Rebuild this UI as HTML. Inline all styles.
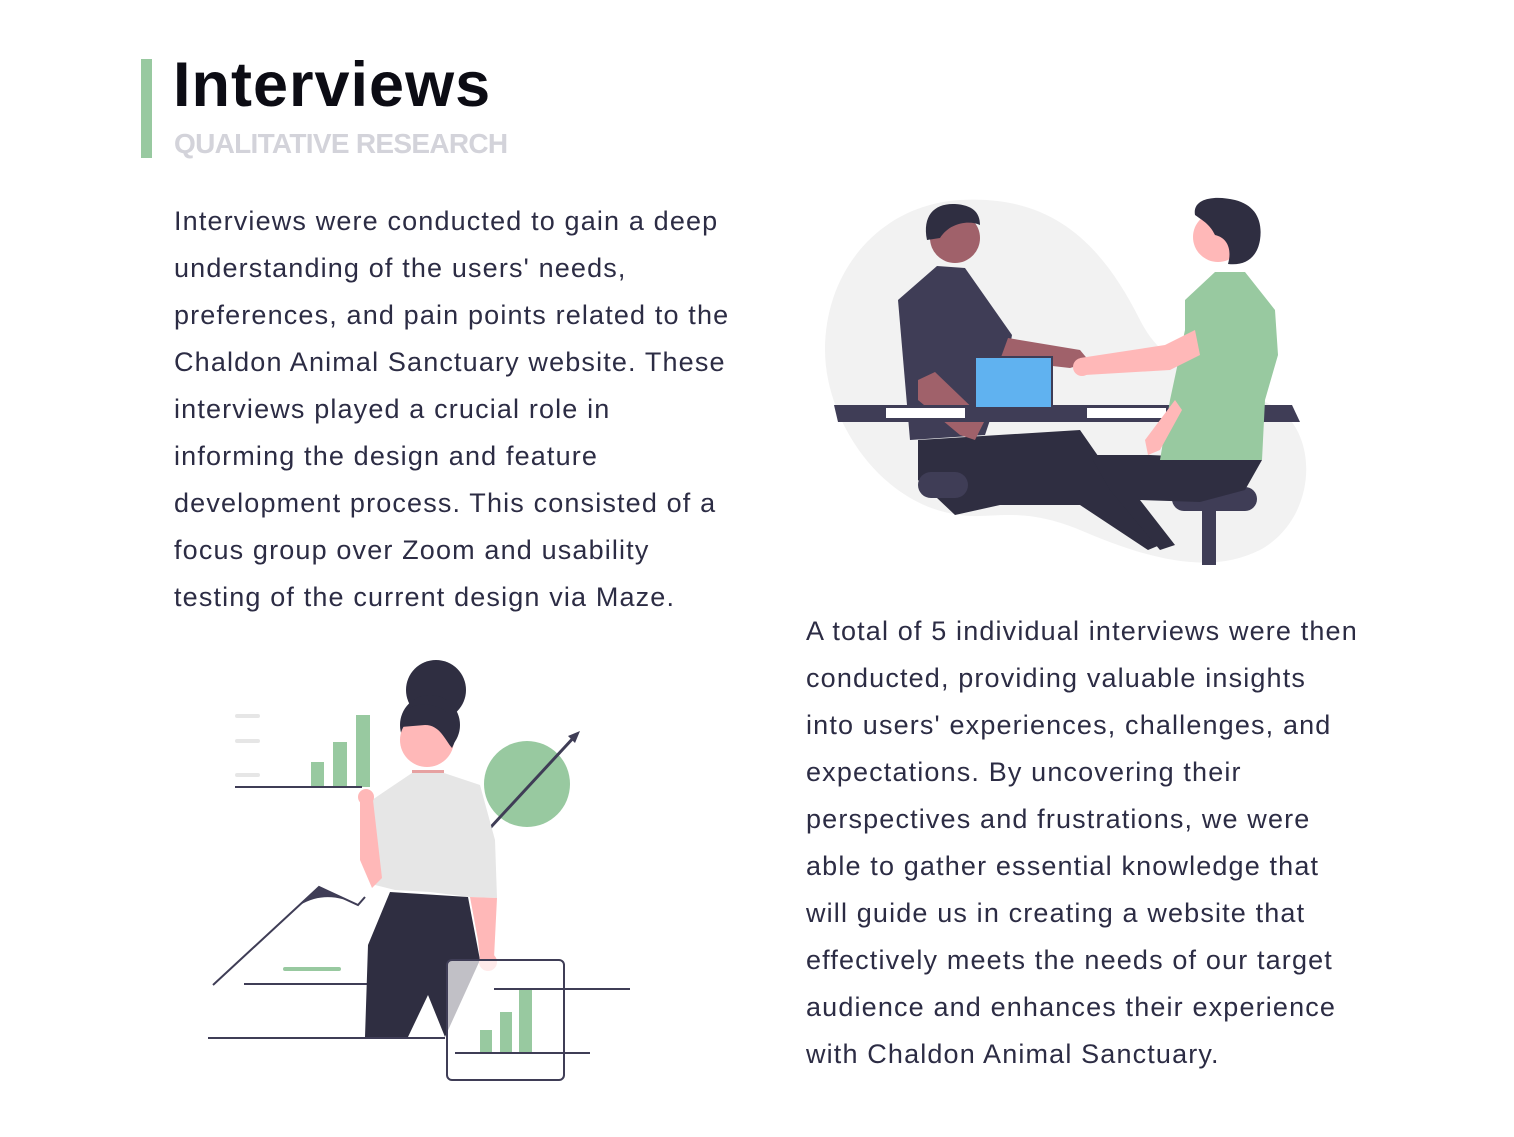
<!DOCTYPE html>
<html><head><meta charset="utf-8"><style>
body{margin:0;background:#fff;width:1514px;height:1137px;overflow:hidden;position:relative;font-family:"Liberation Sans",sans-serif;}
.bar{position:absolute;left:141px;top:59px;width:11px;height:99px;background:#98c9a0}
h1{position:absolute;left:173px;top:49px;margin:0;font-size:63px;font-weight:bold;color:#0c0c14;letter-spacing:1px}
.sub{position:absolute;left:174px;top:128px;font-size:28px;font-weight:bold;color:#d3d3da;letter-spacing:-0.7px}
.p{position:absolute;font-size:27px;line-height:47px;color:#2c2c44;white-space:nowrap;letter-spacing:1.15px}
svg{position:absolute;left:0;top:0}
</style></head><body>
<div class="bar"></div>
<h1>Interviews</h1>
<div class="sub">QUALITATIVE RESEARCH</div>
<div class="p" style="left:174px;top:198px">Interviews were conducted to gain a deep<br>understanding of the users' needs,<br>preferences, and pain points related to the<br>Chaldon Animal Sanctuary website. These<br>interviews played a crucial role in<br>informing the design and feature<br>development process. This consisted of a<br>focus group over Zoom and usability<br>testing of the current design via Maze.</div>
<div class="p" style="left:806px;top:608px">A total of 5 individual interviews were then<br>conducted, providing valuable insights<br>into users' experiences, challenges, and<br>expectations. By uncovering their<br>perspectives and frustrations, we were<br>able to gather essential knowledge that<br>will guide us in creating a website that<br>effectively meets the needs of our target<br>audience and enhances their experience<br>with Chaldon Animal Sanctuary.</div>
<svg width="1514" height="1137" viewBox="0 0 1514 1137">
<path d="M960,200 C1050,195 1100,240 1140,320 C1170,380 1230,380 1280,410 C1320,440 1315,520 1260,550 C1210,575 1150,560 1080,530 C1020,505 990,520 960,515 C880,505 825,420 825,350 C825,270 880,205 960,200Z" fill="#f2f2f2"/>
<polygon points="918,440 1080,430 1160,545 1148,550 1080,505 1000,505 955,515 918,480" fill="#2f2e41"/>
<rect x="918" y="472" width="50" height="26" rx="13" fill="#3f3d56"/>
<polygon points="937,266 965,268 1012,335 1005,375 985,435 910,440 898,300" fill="#3f3d56"/>
<polygon points="1008,338 1080,350 1090,362 1070,368 1000,360" fill="#a0616a"/>
<polygon points="918,380 935,372 985,420 975,440 960,435 918,400" fill="#a0616a"/>
<circle cx="955" cy="238" r="25" fill="#a0616a"/>
<path d="M927,240 C922,215 935,203 955,204 C972,205 980,212 980,225 C970,220 950,222 940,238Z" fill="#2f2e41"/>
<rect x="1172" y="487" width="85" height="24" rx="12" fill="#3f3d56"/>
<rect x="1202" y="505" width="14" height="60" fill="#3f3d56"/>
<polygon points="1150,455 1262,460 1245,490 1200,502 1140,500 1175,545 1160,550 1110,490 1090,455" fill="#2f2e41"/>
<polygon points="834,405 1292,405 1300,422 838,422" fill="#3f3d56"/>
<rect x="886" y="408" width="79" height="10" fill="#fff"/>
<rect x="1087" y="408" width="79" height="10" fill="#fff"/>
<polygon points="1215,272 1245,272 1275,310 1278,355 1265,400 1262,460 1160,460 1170,400 1185,330 1185,300" fill="#98c9a0"/>
<polygon points="1080,358 1165,345 1195,330 1200,355 1170,370 1085,375" fill="#ffb8b8"/>
<circle cx="1082" cy="367" r="9" fill="#ffb8b8"/>
<polygon points="1175,400 1182,410 1160,450 1148,455 1145,440" fill="#ffb8b8"/>
<circle cx="1218" cy="237" r="25" fill="#ffb8b8"/>
<path d="M1195,215 C1192,198 1215,195 1235,200 C1255,205 1263,220 1260,240 C1257,258 1245,266 1228,264 C1232,250 1228,238 1215,235 C1210,225 1205,222 1195,215Z" fill="#2f2e41"/>
<rect x="975" y="357" width="77" height="51" fill="#60b2f0" stroke="#3f3d56" stroke-width="2"/>
<rect x="973" y="407" width="81" height="6" fill="#3f3d56"/>

<g stroke="#e6e6e6" stroke-width="4" stroke-linecap="round"><line x1="237" y1="716" x2="258" y2="716"/><line x1="237" y1="741" x2="258" y2="741"/><line x1="237" y1="775" x2="258" y2="775"/></g>
<g fill="#98c9a0"><rect x="311" y="762" width="13" height="25"/><rect x="333" y="742" width="14" height="45"/><rect x="356" y="715" width="14" height="72"/></g>
<line x1="235" y1="787" x2="362" y2="787" stroke="#3f3d56" stroke-width="2"/>
<circle cx="527" cy="784" r="43" fill="#98c9a0"/>
<line x1="490" y1="828" x2="576" y2="735" stroke="#3f3d56" stroke-width="3"/>
<polygon points="580,731 568,736 575,743" fill="#3f3d56"/>
<polyline points="213,985 319,887 358,905 365,897" fill="none" stroke="#3f3d56" stroke-width="2"/>
<path d="M300,905 L319,887 L358,905 C340,896 320,893 300,905Z" fill="#3f3d56"/>
<line x1="244" y1="984" x2="367" y2="984" stroke="#3f3d56" stroke-width="2"/>
<line x1="285" y1="969" x2="339" y2="969" stroke="#98c9a0" stroke-width="4" stroke-linecap="round"/>
<line x1="208" y1="1038" x2="445" y2="1038" stroke="#3f3d56" stroke-width="2"/>
<polygon points="390,892 468,897 480,960 445,1037 428,995 408,1037 365,1037 368,945" fill="#2f2e41"/>
<polygon points="412,770 444,770 444,778 412,778" fill="#e6a1a1"/>
<polygon points="412,773 444,773 480,785 495,840 497,898 470,897 430,892 395,890 375,885 372,800" fill="#e6e6e6"/>
<polygon points="360,795 373,800 382,878 372,888 360,860" fill="#ffb8b8"/>
<circle cx="366" cy="797" r="8" fill="#ffb8b8"/>
<polygon points="470,897 497,898 494,958 480,960 478,940" fill="#ffb8b8"/>
<circle cx="488" cy="962" r="9" fill="#ffb8b8"/>
<circle cx="436" cy="690" r="30" fill="#2f2e41"/>
<circle cx="430" cy="725" r="30" fill="#2f2e41"/>
<circle cx="427" cy="740" r="27" fill="#ffb8b8"/>
<path d="M401,727 C402,705 420,700 440,708 C455,715 462,730 452,748 C445,740 440,725 425,725 Z" fill="#2f2e41"/>
<rect x="447" y="960" width="117" height="120" rx="5" fill="#fff" fill-opacity="0.7" stroke="#3f3d56" stroke-width="2"/>
<line x1="494" y1="989" x2="630" y2="989" stroke="#3f3d56" stroke-width="2"/>
<g fill="#98c9a0"><rect x="480" y="1030" width="12" height="23"/><rect x="500" y="1012" width="12" height="41"/><rect x="519" y="990" width="13" height="63"/></g>
<line x1="455" y1="1053" x2="590" y2="1053" stroke="#3f3d56" stroke-width="2"/>
</svg>
</body></html>
